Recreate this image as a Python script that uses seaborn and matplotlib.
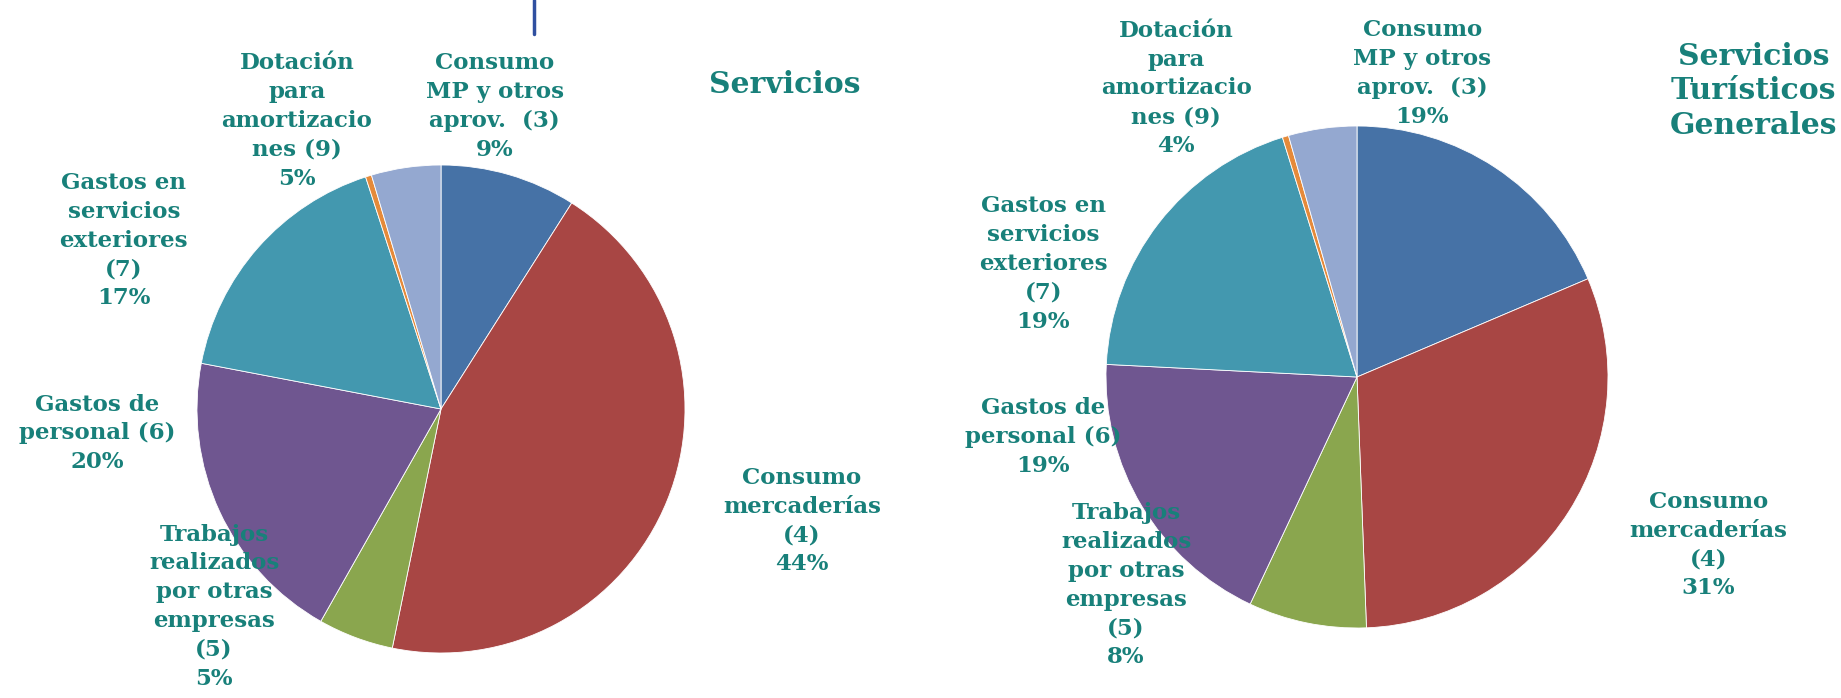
import matplotlib
matplotlib.use('Agg')
import matplotlib.pyplot as plt
from matplotlib.lines import Line2D
import numpy as np
import seaborn as sns

# Cost structure, share of total (%) -- slices clockwise from 12 o'clock
categories = ['(3)', '(4)', '(5)', '(6)', '(7)', '(8)', '(9)']
label_texts = [
    'Consumo\nMP y otros\naprov.  (3)',
    'Consumo\nmercaderías\n(4)',
    'Trabajos\nrealizados\npor otras\nempresas\n(5)',
    'Gastos de\npersonal (6)',
    'Gastos en\nservicios\nexteriores\n(7)',
    '',
    'Dotación\npara\namortizacio\nnes (9)',
]
servicios = [9.0, 44.2, 5.0, 19.8, 17.0, 0.4, 4.6]
turisticos = [18.6, 30.8, 7.6, 18.8, 19.4, 0.4, 4.4]
titles = ['Servicios', 'Servicios\nTurísticos\nGenerales']

sns.set_theme(style='white')
plt.rcParams['font.family'] = ['DejaVu Serif', 'DejaVu Sans']

colors = ['#4672A6', '#A84644', '#8AA64E', '#6F5690', '#4398AF', '#E58A3A', '#94A8D0']
text_color = '#18807A'

W, H = 1841, 698
fig = plt.figure(figsize=(W / 100, H / 100), dpi=100)

# label anchor offsets (in pie radii) for each pie
label_pos = [
    [(0.22, 1.24), (1.48, -0.46), (-0.93, -0.81), (-1.41, -0.10), (-1.30, 0.69), None, (-0.59, 1.18)],
    [(0.26, 1.21), (1.40, -0.67), (-0.92, -0.83), (-1.25, -0.24), (-1.25, 0.45), None, (-0.72, 1.15)],
]
title_pos = [(1.41, 1.33), (1.58, 1.14)]
# pie centre and radius in pixels
pies = [((441, 409), 244), ((1357, 377), 251)]

for k, vals in enumerate([servicios, turisticos]):
    (cx, cy), r = pies[k]
    ax = fig.add_axes([(cx - r) / W, (H - cy - r) / H, 2 * r / W, 2 * r / H])
    ax.pie(vals, colors=colors, startangle=90, counterclock=False,
           wedgeprops=dict(edgecolor='white', linewidth=0.6))
    ax.set_xlim(-1, 1)
    ax.set_ylim(-1, 1)
    ax.set_aspect('auto')
    ax.axis('off')
    for i, txt in enumerate(label_texts):
        if label_pos[k][i] is None:
            continue
        x, y = label_pos[k][i]
        ax.text(x, y, f'{txt}\n{round(vals[i])}%', ha='center', va='center',
                fontsize=16.5, fontweight='bold', color=text_color,
                linespacing=1.4, clip_on=False)
    tx, ty = title_pos[k]
    ax.text(tx, ty, titles[k], ha='center', va='center', fontsize=21.5,
            fontweight='bold', color=text_color, linespacing=1.25, clip_on=False)

fig.add_artist(Line2D([534 / W, 534 / W], [1, 1 - 34 / H], color='#3050A0', linewidth=2.5))

fig.savefig('out.png', dpi=100, facecolor='white')
